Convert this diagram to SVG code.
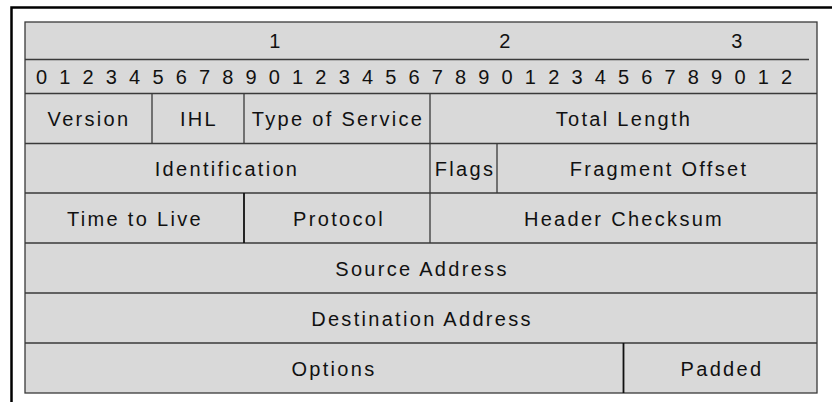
<svg xmlns="http://www.w3.org/2000/svg" width="832" height="402" viewBox="0 0 832 402">
<style>
.cell{fill:#d9d9d9;stroke:#3a3a3a;stroke-width:1.3}
.ln{stroke:#3a3a3a;stroke-width:1.3;fill:none}
.dk{stroke:#111;stroke-width:1.8;fill:none}
text{font-family:"Liberation Sans",Arial,sans-serif;font-size:20px;fill:#111;text-anchor:middle;letter-spacing:2.3px}
.dig{text-anchor:start;font-size:20px;letter-spacing:3.3px}
</style>
<rect width="832" height="402" fill="#fff"/>
<path d="M11.5,402 V7.5 H832" fill="none" stroke="#000" stroke-width="2.5"/>
<g id="table">
<rect class="cell" x="25" y="22" width="792" height="371"/>
</g>
<g id="connectors">
<path class="ln" d="M25,59.5 H809 M25,93.5 H817 M25,143.5 H817 M25,193 H817 M25,243 H817 M25,293 H817 M25,343 H817"/>
<path class="ln" d="M152,93.5 V143.5 M244,93.5 V143.5 M430,93.5 V243 M497,143.5 V193"/>
<path class="dk" d="M244,193 V243 M623.5,343 V393"/>
</g>
<g id="header">
<text x="276" y="48">1</text>
<text x="506" y="48">2</text>
<text x="738" y="48">3</text>
</g>
<g id="bits">
<text class="dig" x="36" y="84">0 1 2 3 4 5 6 7 8 9 0 1 2 3 4 5 6 7 8 9 0 1 2 3 4 5 6 7 8 9 0 1 2</text>
</g>
<g id="version"><text x="89" y="126">Version</text></g>
<g id="ihl"><text x="199" y="126">IHL</text></g>
<g id="tos"><text x="338" y="126">Type of Service</text></g>
<g id="total-length"><text x="624" y="126">Total Length</text></g>
<g id="identification"><text x="227" y="176">Identification</text></g>
<g id="flags"><text x="465" y="176">Flags</text></g>
<g id="fragment-offset"><text x="659" y="176">Fragment Offset</text></g>
<g id="ttl"><text x="135" y="226">Time to Live</text></g>
<g id="protocol"><text x="339" y="226">Protocol</text></g>
<g id="checksum"><text x="624" y="226">Header Checksum</text></g>
<g id="source"><text x="422" y="276">Source Address</text></g>
<g id="destination"><text x="422" y="326">Destination Address</text></g>
<g id="options"><text x="334" y="376">Options</text></g>
<g id="padded"><text x="722" y="376">Padded</text></g>
</svg>
